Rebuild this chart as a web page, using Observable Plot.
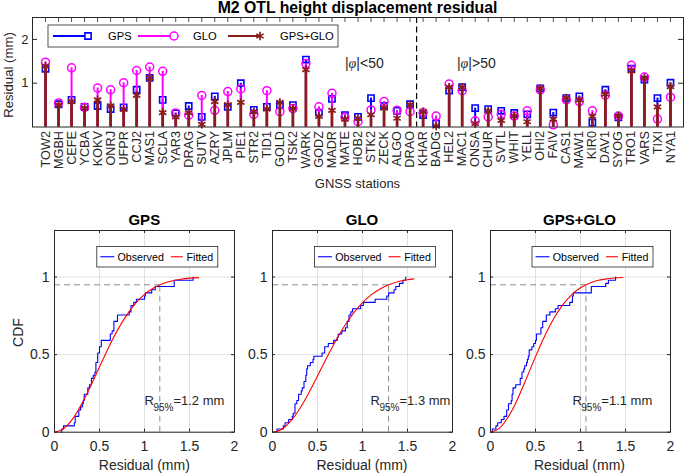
<!DOCTYPE html>
<html><head><meta charset="utf-8">
<script src="https://cdn.jsdelivr.net/npm/d3@7"></script>
<script src="https://cdn.jsdelivr.net/npm/@observablehq/plot@0.6"></script>
<style>
body{margin:0;background:#fff}
#root{position:relative;width:685px;height:474px;overflow:hidden;background:#fff}
</style></head><body><div id="root"></div>
<script>
// ---------------- data ----------------
const stations = ["TOW2","MGBH","CEFE","YCBA","KOKV","ONRJ","UFPR","CCJ2","MAS1","SCLA","YAR3","DRAG","SUTV","AZRY","JPLM","PIE1","STR2","TID1","GOLD","TSK2","WARK","GODZ","MADR","MATE","HOB2","STK2","ZECK","ALGO","DRAO","KHAR","BADG","HEL2","MAC1","ONSA","CHUR","SVTL","WHIT","YELL","OHI2","FAIV","CAS1","MAW1","KIR0","DAV1","SYOG","TRO1","VARS","TIXI","NYA1"];
const gps    = [1.33,0.52,0.62,0.46,0.48,0.41,0.45,0.85,1.12,0.62,0.31,0.48,0.23,0.70,0.46,1.00,0.39,0.46,0.50,0.50,1.54,0.33,0.64,0.27,0.23,0.66,0.48,0.37,0.52,0.27,0.08,0.83,0.91,0.43,0.41,0.37,0.32,0.29,0.88,0.33,0.66,0.70,0.10,0.85,0.22,1.33,1.08,0.66,1.01];
const glo    = [1.48,0.55,1.35,0.45,0.89,0.85,1.01,1.29,1.37,1.27,0.32,0.27,0.72,0.38,0.81,0.87,0.29,0.83,0.35,0.42,1.45,0.46,0.77,0.22,0.12,0.39,0.58,0.38,0.35,0.33,0.25,0.98,0.83,0.14,0.23,0.29,0.25,0.37,0.85,0.05,0.62,0.58,0.37,0.73,0.25,1.41,1.14,0.18,0.68];
const gpsGlo = [1.39,0.50,0.58,0.43,0.62,0.48,0.40,0.72,1.12,0.33,0.23,0.33,0.06,0.58,0.51,0.56,0.35,0.41,0.56,0.42,1.31,0.24,0.38,0.18,0.20,0.28,0.43,0.20,0.51,0.35,0.02,0.91,0.91,0.08,0.37,0.15,0.25,0.12,0.88,0.18,0.66,0.62,0.24,0.75,0.25,1.28,1.12,0.46,0.92];
const latSplit = 29.5;                 // between DRAO and KHAR
const regionLabels = ["|φ|<50", "|φ|>50"];
const regionX = [24.0, 32.6];
const regionY = [1.46, 1.46];
const yTicksTop = [1, 2];

const panelTitles = ["GPS", "GLO", "GPS+GLO"];
const cdfXTicks = [0, 0.5, 1, 1.5, 2];
const cdfYTicks = [0, 0.5, 1];
const level95 = 0.95;
const r95 = [1.17, 1.29, 1.06];
const r95Labels = ["1.2", "1.3", "1.1"];
const r95TextX = [1.0, 1.09, 0.91];
const r95TextY = 0.2;
// fitted CDF curves
const fitGpsX = [0,0.1,0.2,0.3,0.4,0.5,0.6,0.7,0.8,0.9,1.0,1.1,1.2,1.3,1.4,1.5,1.6];
const fitGpsY = [0,0.022,0.084,0.18,0.295,0.42,0.545,0.658,0.753,0.83,0.888,0.929,0.957,0.975,0.986,0.993,0.996];
const fitGloX = [0,0.1,0.2,0.3,0.4,0.5,0.6,0.7,0.8,0.9,1.0,1.1,1.2,1.3,1.4,1.5,1.57];
const fitGloY = [0,0.018,0.07,0.15,0.25,0.362,0.477,0.586,0.684,0.767,0.835,0.887,0.925,0.952,0.971,0.983,0.988];
const fitBothX = [0,0.1,0.2,0.3,0.4,0.5,0.6,0.7,0.8,0.9,1.0,1.1,1.2,1.3,1.4,1.47];
const fitBothY = [0,0.026,0.101,0.213,0.347,0.487,0.617,0.729,0.819,0.885,0.931,0.96,0.979,0.989,0.995,0.997];

// ---------------- style ----------------
const BLUE = "#0000ff", MAG = "#ff00ff", DRED = "#8a1c1c", AX = "#262626", GRID = "#e0e0e0";
const FONT = "'Liberation Sans', Arial, Helvetica, sans-serif";
const root = document.getElementById("root");

function place(svg, left, top) {
  svg.style.position = "absolute";
  svg.style.left = left + "px";
  svg.style.top = top + "px";
  root.appendChild(svg);
}

// ---------------- top stem chart ----------------
const rows = stations.map((s, i) => ({i: i + 1, s, gps: gps[i], glo: glo[i], both: gpsGlo[i]}));
const idx = rows.map(d => d.i);
const T = {w: 685, h: 172, fl: 32, fr: 683, ft: 17, fb: 126.5};
const tW = T.fr - T.fl, tH = T.fb - T.ft;

const topPlot = Plot.plot({
  width: T.w, height: T.h,
  marginLeft: T.fl, marginRight: T.w - T.fr, marginTop: T.ft, marginBottom: T.h - T.fb,
  x: {domain: [0, 50]},
  y: {domain: [0, 2.5]},
  style: {fontFamily: FONT, fontSize: "13px", color: AX, background: "transparent", overflow: "visible"},
  marks: [
    Plot.ruleX(idx, {x: d => d, insetBottom: tH - 5, stroke: AX, strokeWidth: 0.8}),
    Plot.ruleX(idx, {x: d => d, insetTop: tH - 5, stroke: AX, strokeWidth: 0.8}),
    Plot.ruleY(yTicksTop, {y: d => d, insetRight: tW - 5, stroke: AX}),
    Plot.ruleY(yTicksTop, {y: d => d, insetLeft: tW - 5, stroke: AX}),
    Plot.ruleX([latSplit], {x: d => d, stroke: "#000", strokeWidth: 1.2, strokeDasharray: "6,3.5"}),
    Plot.ruleX(rows, {x: "i", y1: 0, y2: "gps", stroke: BLUE, strokeWidth: 2}),
    Plot.dot(rows, {x: "i", y: "gps", symbol: "square", r: 3.5, stroke: BLUE, strokeWidth: 1.6, fill: "none"}),
    Plot.ruleX(rows, {x: "i", y1: 0, y2: "glo", stroke: MAG, strokeWidth: 2}),
    Plot.dot(rows, {x: "i", y: "glo", symbol: "circle", r: 4, stroke: MAG, strokeWidth: 1.5, fill: "none"}),
    Plot.ruleX(rows, {x: "i", y1: 0, y2: "both", stroke: DRED, strokeWidth: 2.8}),
    Plot.dot(rows, {x: "i", y: "both", symbol: "asterisk", r: 4, stroke: DRED, strokeWidth: 1.7, fill: "none"}),
    Plot.text(regionLabels, {x: (d, i) => regionX[i], y: (d, i) => regionY[i], text: d => d, textAnchor: "start", fontSize: 14, fill: AX}),
    Plot.axisX({ticks: idx, tickFormat: d => stations[d - 1], tickRotate: -90, tickSize: 0, tickPadding: 4, fontSize: 12.7, label: null}),
    Plot.axisY({ticks: yTicksTop, tickFormat: d => String(d), tickSize: 0, tickPadding: 4, fontSize: 13, label: null}),
    Plot.frame({stroke: AX})
  ]
});
place(topPlot, 0, 0);

// italic phi
d3.select(topPlot).selectAll("text").each(function () {
  const t = this.textContent;
  if (t === regionLabels[0] || t === regionLabels[1]) {
    const el = d3.select(this);
    el.text(null);
    el.append("tspan").text("|");
    el.append("tspan").attr("font-style", "italic").attr("font-family", "'Liberation Serif', 'DejaVu Serif', serif").text("φ");
    el.append("tspan").text(t.slice(2));
  }
});

// ---------------- CDF panels ----------------
const P = {top: 200, h: 262, ft: 230, fb: 431.7, fw: 180};
const panelLefts = [54.3, 272, 489.5];
const panelValues = [gps, glo, gpsGlo];
const fitXs = [fitGpsX, fitGloX, fitBothX];
const fitYs = [fitGpsY, fitGloY, fitBothY];

panelTitles.forEach((title, k) => {
  const sorted = panelValues[k].slice().sort(d3.ascending);
  const n = sorted.length;
  const ecdf = [{x: sorted[0], y: 0}].concat(sorted.map((v, i) => ({x: v, y: (i + 1) / n})));
  const fit = fitXs[k].map((x, i) => ({x, y: fitYs[k][i]}));
  const ml = 40, mr = 8;
  const fh = P.fb - P.ft;
  const svg = Plot.plot({
    width: ml + P.fw + mr, height: P.h,
    marginLeft: ml, marginRight: mr, marginTop: P.ft - P.top, marginBottom: P.top + P.h - P.fb,
    x: {domain: [0, 2]},
    y: {domain: [0, 1.3]},
    style: {fontFamily: FONT, fontSize: "14px", color: AX, background: "transparent", overflow: "visible"},
    marks: [
      Plot.ruleX(cdfXTicks, {x: d => d, stroke: GRID}),
      Plot.ruleY(cdfYTicks, {y: d => d, stroke: GRID}),
      Plot.ruleX(cdfXTicks, {x: d => d, insetBottom: fh - 3, stroke: AX}),
      Plot.ruleX(cdfXTicks, {x: d => d, insetTop: fh - 3, stroke: AX}),
      Plot.ruleY(cdfYTicks, {y: d => d, insetRight: P.fw - 3, stroke: AX}),
      Plot.ruleY(cdfYTicks, {y: d => d, insetLeft: P.fw - 3, stroke: AX}),
      Plot.ruleY([level95], {y: d => d, x1: 0, x2: r95[k], stroke: "#8c8c8c", strokeDasharray: "6,4"}),
      Plot.ruleX([r95[k]], {x: d => d, y1: 0, y2: level95, stroke: "#8c8c8c", strokeDasharray: "6,4"}),
      Plot.line(ecdf, {x: "x", y: "y", curve: "step-after", stroke: BLUE, strokeWidth: 1.1}),
      Plot.line(fit, {x: "x", y: "y", curve: "monotone-x", stroke: "#ff0000", strokeWidth: 1.1}),
      Plot.text([`R95%=${r95Labels[k]} mm`], {x: r95TextX[k], y: r95TextY, text: d => d, textAnchor: "start", fontSize: 13, fill: AX}),
      Plot.axisX({ticks: cdfXTicks, tickFormat: d => String(d), tickSize: 0, tickPadding: 9, fontSize: 14, label: null}),
      Plot.axisY({ticks: cdfYTicks, tickFormat: d => String(d), tickSize: 0, tickPadding: 5, fontSize: 14, label: null}),
      Plot.frame({stroke: AX})
    ]
  });
  place(svg, panelLefts[k] - ml, P.top);
  d3.select(svg).selectAll("text").each(function () {
    const t = this.textContent;
    const m = t.match(/^R95%=(.*)$/);
    if (m) {
      const el = d3.select(this);
      el.text(null);
      el.append("tspan").text("R");
      el.append("tspan").attr("font-size", "10px").attr("dx", "-0.5").attr("dy", "5.5").text("95%");
      el.append("tspan").attr("dy", "-5.5").text("=" + m[1]);
    }
  });
});

// ---------------- overlay: titles, labels, legends ----------------
const ov = d3.select(root).append("svg")
  .attr("width", 685).attr("height", 474)
  .style("position", "absolute").style("left", "0px").style("top", "0px")
  .attr("font-family", FONT);

function txt(s, x, y, size, o = {}) {
  const t = ov.append("text").attr("x", x).attr("y", y).attr("font-size", size)
    .attr("text-anchor", o.anchor || "middle").attr("fill", o.fill || AX).text(s);
  if (o.bold) t.attr("font-weight", "bold");
  if (o.rotate) t.attr("transform", `rotate(-90 ${x} ${y})`);
  return t;
}

txt("M2 OTL height displacement residual", 357.5, 13.3, 15.8, {bold: true, fill: "#000"});
txt("Residual (mm)", 12.5, 75, 13.2, {rotate: true});
txt("GNSS stations", 357.5, 188, 13);

// top legend
const symPath = (type, r) => d3.symbol(type, Math.PI * r * r)();
const lg = ov.append("g").attr("transform", "translate(48,25)");
lg.append("rect").attr("width", 290).attr("height", 22).attr("fill", "#fff").attr("stroke", AX).attr("stroke-width", 0.8);
const legItems = [
  {x1: 5, x2: 40, color: BLUE, sym: "square", label: "GPS", tx: 60},
  {x1: 90, x2: 126, color: MAG, sym: "circle", label: "GLO", tx: 145},
  {x1: 180, x2: 212, color: DRED, sym: "asterisk", label: "GPS+GLO", tx: 232}
];
legItems.forEach(it => {
  lg.append("line").attr("x1", it.x1).attr("x2", it.x2).attr("y1", 11).attr("y2", 11)
    .attr("stroke", it.color).attr("stroke-width", 2);
  if (it.sym === "circle") {
    lg.append("circle").attr("cx", it.x2).attr("cy", 11).attr("r", 4).attr("fill", "#fff")
      .attr("stroke", it.color).attr("stroke-width", 1.5);
  } else if (it.sym === "square") {
    lg.append("path").attr("d", symPath(d3.symbolSquare, 3.5)).attr("transform", `translate(${it.x2},11)`)
      .attr("fill", "#fff").attr("stroke", it.color).attr("stroke-width", 1.6);
  } else {
    lg.append("path").attr("d", symPath(d3.symbolAsterisk, 4)).attr("transform", `translate(${it.x2},11)`)
      .attr("fill", "none").attr("stroke", it.color).attr("stroke-width", 1.7);
  }
  lg.append("text").attr("x", it.tx).attr("y", 15).attr("font-size", 11.2).attr("fill", "#000").text(it.label);
});

// CDF panel titles, labels, legends
panelTitles.forEach((title, k) => {
  const cx = panelLefts[k] + P.fw / 2;
  txt(title, cx, 225, 15, {bold: true, fill: "#000"});
  txt("Residual (mm)", cx, 469.5, 14);
  const g = ov.append("g").attr("transform", `translate(${panelLefts[k] + 42.5},246.5)`);
  g.append("rect").attr("width", 121).attr("height", 20.5).attr("fill", "#fff").attr("stroke", AX).attr("stroke-width", 0.8);
  g.append("line").attr("x1", 3.5).attr("x2", 17.5).attr("y1", 10.25).attr("y2", 10.25).attr("stroke", BLUE).attr("stroke-width", 1.1);
  g.append("text").attr("x", 20.7).attr("y", 14).attr("font-size", 10.7).attr("fill", "#000").text("Observed");
  g.append("line").attr("x1", 74).attr("x2", 86).attr("y1", 10.25).attr("y2", 10.25).attr("stroke", "#ff0000").attr("stroke-width", 1.1);
  g.append("text").attr("x", 89.7).attr("y", 14).attr("font-size", 10.7).attr("fill", "#000").text("Fitted");
});
txt("CDF", 23, 332.5, 14, {rotate: true});
</script>
</body></html>
